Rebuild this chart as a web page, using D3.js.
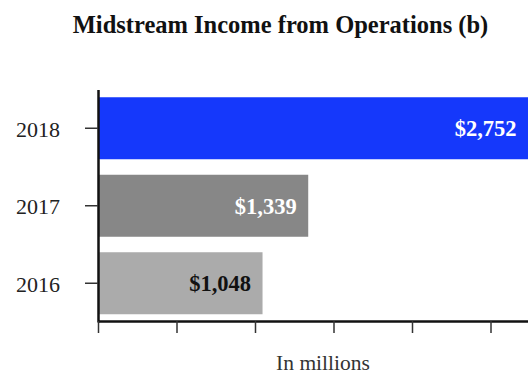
<!DOCTYPE html>
<html>
<head>
<meta charset="utf-8">
<script src="https://d3js.org/d3.v7.min.js"></script>
<style>
  body { margin: 0; background: #fff; }
  svg { display: block; font-family: "Liberation Serif", "Times New Roman", serif; }
</style>
</head>
<body>
<div id="chart"></div>
<script>
// Chart data
const years = ["2018", "2017", "2016"];
const income = [2752, 1339, 1048];
const barColors = ["#1538fb", "#878787", "#ababab"];
const labelColors = ["#ffffff", "#ffffff", "#111111"];
const xTicks = [0, 500, 1000, 1500, 2000, 2500, 3000];

const width = 528;
const height = 377;

const svg = d3.select("#chart").append("svg")
    .attr("width", width)
    .attr("height", height);

const x = d3.scaleLinear()
    .domain([0, 3000])
    .range([98, 569]);

const y = d3.scaleBand()
    .domain(years)
    .range([89.5, 322])
    .paddingInner(0.2)
    .paddingOuter(0.1);

// Title
svg.append("text")
    .attr("x", 280.5)
    .attr("y", 33)
    .attr("text-anchor", "middle")
    .attr("font-size", 24.5)
    .attr("font-weight", "bold")
    .attr("fill", "#111")
    .text("Midstream Income from Operations (b)");

// Bars
svg.selectAll("rect.bar")
    .data(years)
    .enter().append("rect")
    .attr("class", "bar")
    .attr("x", x(0))
    .attr("y", d => y(d))
    .attr("width", (d, i) => x(income[i]) - x(0))
    .attr("height", y.bandwidth())
    .attr("fill", (d, i) => barColors[i]);

// Value labels
svg.selectAll("text.value")
    .data(years)
    .enter().append("text")
    .attr("class", "value")
    .attr("x", (d, i) => Math.min(x(income[i]), width) - 11.5)
    .attr("y", d => y(d) + y.bandwidth() / 2)
    .attr("dy", "0.36em")
    .attr("text-anchor", "end")
    .attr("font-size", 22.5)
    .attr("font-weight", "bold")
    .attr("fill", (d, i) => labelColors[i])
    .text((d, i) => "$" + d3.format(",")(income[i]));

// Y axis
const yAxis = svg.append("g")
    .attr("transform", `translate(${x(0)},0)`)
    .call(d3.axisLeft(y).tickSize(13).tickPadding(25).tickSizeOuter(0));
yAxis.select(".domain").attr("stroke", "#111").attr("stroke-width", 2.5);
yAxis.selectAll(".tick line").attr("stroke", "#333").attr("stroke-width", 1.5);
yAxis.selectAll(".tick text")
    .attr("font-size", 22)
    .attr("dy", "0.38em")
    .attr("font-family", "Liberation Serif, serif")
    .attr("fill", "#222");

// X axis (no tick labels)
const xAxis = svg.append("g")
    .attr("transform", "translate(0,321)")
    .call(d3.axisBottom(x).tickValues(xTicks).tickSize(12).tickSizeOuter(0).tickFormat(""));
xAxis.select(".domain").attr("stroke", "#111").attr("stroke-width", 2.5);
xAxis.selectAll(".tick line").attr("stroke", "#333").attr("stroke-width", 1.5);

// Axis title
svg.append("text")
    .attr("x", 323)
    .attr("y", 370)
    .attr("text-anchor", "middle")
    .attr("font-size", 21.5)
    .attr("fill", "#333")
    .text("In millions");
</script>
</body>
</html>
